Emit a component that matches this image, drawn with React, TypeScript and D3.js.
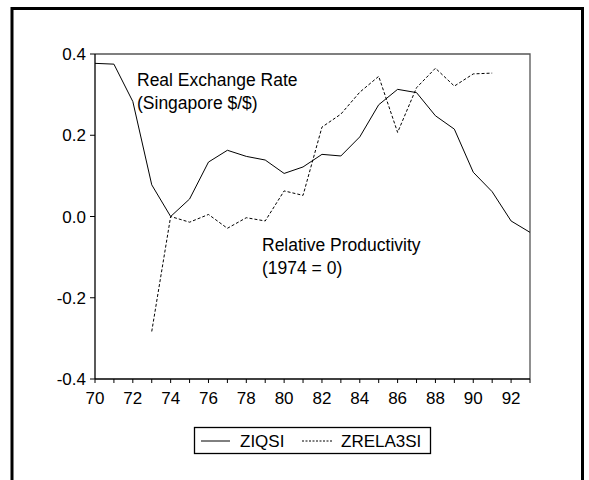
import React, { useEffect, useRef } from "react"
import * as d3 from "d3"

const years = d3.range(70, 94)
const ziqsi = [0.377, 0.375, 0.283, 0.078, 0.0, 0.043, 0.134, 0.163, 0.148, 0.139, 0.106, 0.122,
  0.153, 0.149, 0.196, 0.275, 0.313, 0.305, 0.248, 0.215, 0.109, 0.061, -0.011, -0.039]
const relaYears = d3.range(73, 92)
const zrela3si = [-0.283, 0.0, -0.014, 0.005, -0.029, -0.003, -0.011, 0.063, 0.052, 0.22, 0.252,
  0.306, 0.345, 0.207, 0.317, 0.365, 0.321, 0.351, 0.353]
const yTicks = [-0.4, -0.2, 0.0, 0.2, 0.4]
const xLabels = d3.range(70, 94, 2)
const seriesNames = ["ZIQSI", "ZRELA3SI"]

const W = 589
const H = 480
const font = "'Liberation Sans', Arial, sans-serif"

export default function App() {
  const ref = useRef(null)

  useEffect(() => {
    const svg = d3.select(ref.current)
    svg.selectAll("*").remove()

    const left = 95, right = 530, top = 54, bottom = 379
    const x = d3.scaleLinear().domain([70, 93]).range([left, right])
    const y = d3.scaleLinear().domain([-0.4, 0.4]).range([bottom, top])

    // outer frame
    svg.append("path")
      .attr("d", `M12,${H + 5}V8.5H582.5V${H + 5}`)
      .attr("fill", "none")
      .attr("stroke", "#000")
      .attr("stroke-width", 3)

    // plot box top and right (grey)
    svg.append("path")
      .attr("d", `M${left},${top}H${right}V${bottom}`)
      .attr("fill", "none")
      .attr("stroke", "#555")
      .attr("stroke-width", 1.3)

    // x axis
    const xAxis = svg.append("g").attr("transform", `translate(0,${bottom})`)
    xAxis.append("line").attr("x1", left).attr("x2", right).attr("stroke", "#000").attr("stroke-width", 1.3)
    xAxis.selectAll("line.tick").data(years).enter().append("line")
      .attr("x1", d => x(d)).attr("x2", d => x(d)).attr("y1", 0).attr("y2", 4)
      .attr("stroke", "#000")
    xAxis.selectAll("text").data(xLabels).enter().append("text")
      .attr("x", d => x(d)).attr("y", 25)
      .attr("text-anchor", "middle")
      .attr("font-family", font).attr("font-size", 17)
      .text(d => d)

    // y axis
    const yAxis = svg.append("g").attr("transform", `translate(${left},0)`)
    yAxis.append("line").attr("y1", top).attr("y2", bottom).attr("stroke", "#000").attr("stroke-width", 1.3)
    yAxis.selectAll("line.tick").data(yTicks).enter().append("line")
      .attr("y1", d => y(d)).attr("y2", d => y(d)).attr("x1", 0).attr("x2", -5)
      .attr("stroke", "#000")
    yAxis.selectAll("text").data(yTicks).enter().append("text")
      .attr("x", -9).attr("y", d => y(d) + 6)
      .attr("text-anchor", "end")
      .attr("font-family", font).attr("font-size", 17)
      .text(d => d.toFixed(1))

    svg.append("path")
      .attr("d", d3.line<number>().x((d, i) => x(years[i])).y(d => y(d))(ziqsi))
      .attr("fill", "none").attr("stroke", "#000").attr("stroke-width", 1)

    svg.append("path")
      .attr("d", d3.line<number>().x((d, i) => x(relaYears[i])).y(d => y(d))(zrela3si))
      .attr("fill", "none").attr("stroke", "#000").attr("stroke-width", 1)
      .attr("stroke-dasharray", "3,2")

    // annotations
    const ann = [
      { t: "Real Exchange Rate", x: 137, y: 86 },
      { t: "(Singapore $/$)", x: 137, y: 109 },
      { t: "Relative Productivity", x: 262, y: 251 },
      { t: "(1974 = 0)", x: 262, y: 274 },
    ]
    svg.selectAll("text.ann").data(ann).enter().append("text")
      .attr("class", "ann")
      .attr("x", d => d.x).attr("y", d => d.y)
      .attr("font-family", font).attr("font-size", 17.5)
      .text(d => d.t)

    // legend
    const lg = svg.append("g")
    lg.append("rect").attr("x", 194.5).attr("y", 427.5).attr("width", 236).attr("height", 26)
      .attr("fill", "none").attr("stroke", "#000").attr("stroke-width", 1.3)
    lg.append("line").attr("x1", 201).attr("x2", 230).attr("y1", 441).attr("y2", 441)
      .attr("stroke", "#000")
    lg.append("text").attr("x", 240).attr("y", 447).attr("font-family", font).attr("font-size", 17)
      .text(seriesNames[0])
    lg.append("line").attr("x1", 302).attr("x2", 332).attr("y1", 441).attr("y2", 441)
      .attr("stroke", "#000").attr("stroke-dasharray", "2,1.5")
    lg.append("text").attr("x", 341).attr("y", 447).attr("font-family", font).attr("font-size", 17)
      .text(seriesNames[1])
  }, [])

  return (
    <svg ref={ref} width={W} height={H}
      style={{ position: "absolute", left: 0, top: 0, background: "#fff" }} />
  )
}
